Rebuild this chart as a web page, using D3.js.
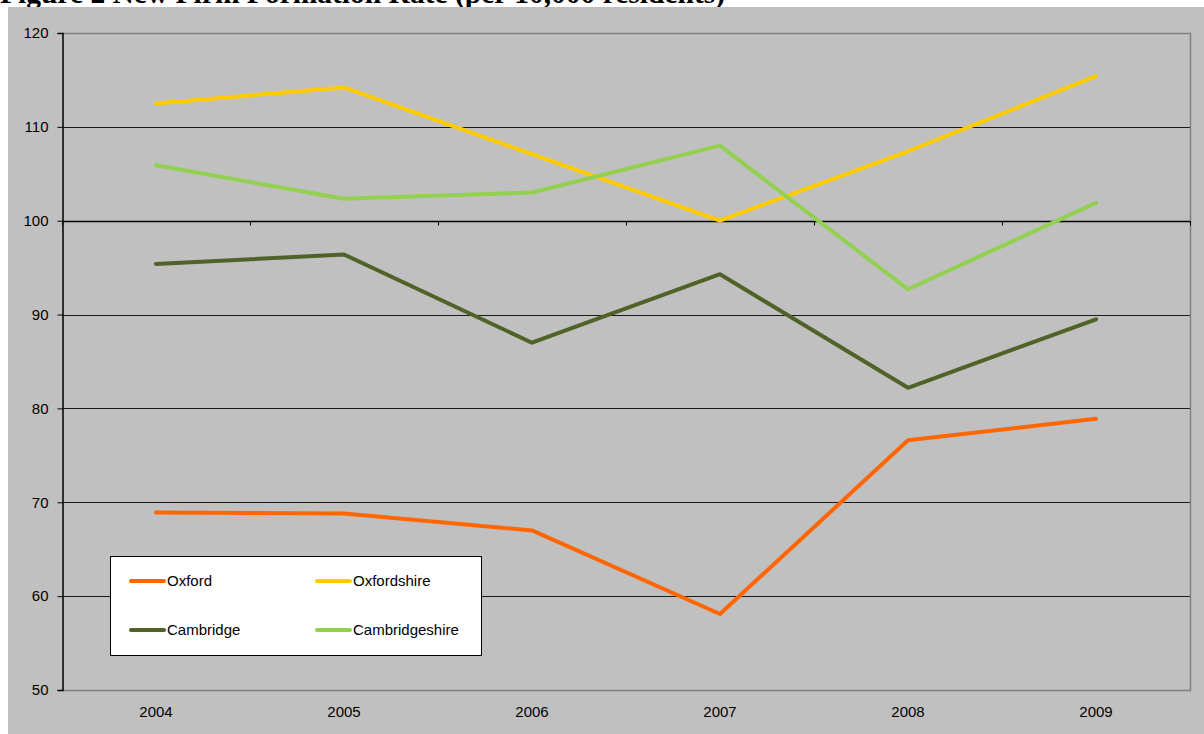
<!DOCTYPE html>
<html>
<head>
<meta charset="utf-8">
<script src="https://cdn.jsdelivr.net/npm/d3@7"></script>
<style>
  html, body { margin: 0; padding: 0; background: #ffffff; }
  svg { display: block; }
  text { font-family: "Liberation Sans", Arial, sans-serif; fill: #000; }
</style>
</head>
<body>
<svg id="chart" width="1204" height="734"></svg>
<script>
// New firm formation rate per 10,000 residents
const years = ["2004", "2005", "2006", "2007", "2008", "2009"];
const oxford         = [68.9, 68.8, 67.0, 58.1, 76.6, 78.9];
const oxfordshire    = [112.5, 114.2, 107.1, 100.0, 107.4, 115.4];
const cambridge      = [95.4, 96.4, 87.0, 94.3, 82.2, 89.5];
const cambridgeshire = [105.9, 102.35, 103.0, 108.0, 92.7, 101.9];
const yTicks = [50, 60, 70, 80, 90, 100, 110, 120];

const series = [
  { name: "Oxford", values: oxford, color: "#FF6600" },
  { name: "Oxfordshire", values: oxfordshire, color: "#FFCC00" },
  { name: "Cambridge", values: cambridge, color: "#4F6228" },
  { name: "Cambridgeshire", values: cambridgeshire, color: "#92D050" }
];

const svg = d3.select("#chart");

// Title (sits partly above the chart area)
svg.append("text")
  .attr("x", 0).attr("y", 3)
  .style("font-family", "'Liberation Serif', 'Times New Roman', serif")
  .style("font-weight", "bold")
  .style("font-size", "29.5px")
  .text("Figure 2 New Firm Formation Rate (per 10,000 residents)");

// Chart area
svg.append("rect")
  .attr("x", 8).attr("y", 7).attr("width", 1196).attr("height", 727)
  .attr("fill", "#C0C0C0");

const plot = { left: 62, right: 1190, top: 33, bottom: 690 };

const x = d3.scaleBand().domain(years).range([plot.left, plot.right]).paddingInner(0).paddingOuter(0);
const y = d3.scaleLinear().domain([50, 120]).range([plot.bottom, plot.top]);

// Horizontal gridlines
svg.append("g")
  .selectAll("line")
  .data(yTicks.filter(d => d > 50 && d < 120 && d !== 100))
  .join("line")
  .attr("x1", plot.left).attr("x2", plot.right)
  .attr("y1", d => Math.round(y(d)) + 0.5).attr("y2", d => Math.round(y(d)) + 0.5)
  .attr("stroke", "#1a1a1a").attr("stroke-width", 1);

// Plot area border (top, right, bottom)
svg.append("path")
  .attr("d", `M${plot.left},${plot.top + 0.5}H${plot.right + 0.5}V${plot.bottom + 0.5}H${plot.left}`)
  .attr("fill", "none").attr("stroke", "#808080").attr("stroke-width", 1.5);

// Y axis
const yAxis = d3.axisLeft(y).tickValues(yTicks).tickSize(5).tickPadding(9);
const gy = svg.append("g")
  .attr("transform", `translate(${plot.left + 0.5},0)`)
  .call(yAxis);
gy.select(".domain").attr("stroke", "#000").attr("stroke-width", 1.5);
gy.selectAll(".tick line").attr("stroke", "#000");
gy.selectAll(".tick text")
  .style("font-size", "15px")
  .style("font-family", "'Liberation Sans', Arial, sans-serif");

// X axis crossing at 100, category boundary ticks hanging below
const yCross = Math.round(y(100)) + 0.5;
svg.append("line")
  .attr("x1", plot.left).attr("x2", plot.right + 0.5)
  .attr("y1", yCross).attr("y2", yCross)
  .attr("stroke", "#000").attr("stroke-width", 1.5);
const bounds = years.map(d => x(d)).concat([plot.right]);
svg.append("g").selectAll("line")
  .data(bounds)
  .join("line")
  .attr("x1", d => Math.round(d) + 0.5).attr("x2", d => Math.round(d) + 0.5)
  .attr("y1", yCross).attr("y2", yCross + 4)
  .attr("stroke", "#000").attr("stroke-width", 1);

// Category labels at the bottom of the plot
svg.append("g").selectAll("text")
  .data(years)
  .join("text")
  .attr("x", d => x(d) + x.bandwidth() / 2)
  .attr("y", 717)
  .attr("text-anchor", "middle")
  .style("font-size", "15px")
  .text(d => d);

// Series lines
const line = d3.line()
  .x((d, i) => x(years[i]) + x.bandwidth() / 2)
  .y(d => y(d));

svg.append("g").selectAll("path")
  .data(series)
  .join("path")
  .attr("d", d => line(d.values))
  .attr("fill", "none")
  .attr("stroke", d => d.color)
  .attr("stroke-width", 4)
  .attr("stroke-linejoin", "round")
  .attr("stroke-linecap", "round");

// Legend
const legend = svg.append("g");
legend.append("rect")
  .attr("x", 110.5).attr("y", 556.5).attr("width", 371).attr("height", 99)
  .attr("fill", "#fff").attr("stroke", "#000").attr("stroke-width", 1);

const legendPos = [
  { x: 131, y: 581 }, { x: 317, y: 581 },
  { x: 131, y: 630 }, { x: 317, y: 630 }
];
const items = legend.selectAll("g.item")
  .data(series)
  .join("g")
  .attr("class", "item")
  .attr("transform", (d, i) => `translate(${legendPos[i].x},${legendPos[i].y})`);
items.append("line")
  .attr("x1", 0).attr("x2", 33).attr("y1", 0).attr("y2", 0)
  .attr("stroke", d => d.color).attr("stroke-width", 4).attr("stroke-linecap", "round");
items.append("text")
  .attr("x", 36).attr("y", 5)
  .style("font-size", "15px")
  .text(d => d.name);
</script>
</body>
</html>
